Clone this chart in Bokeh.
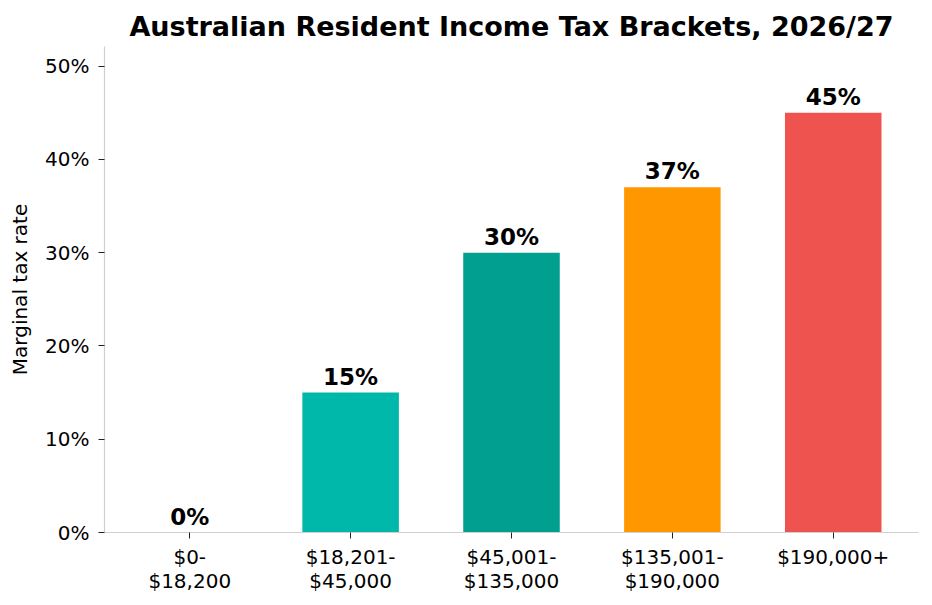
from bokeh.plotting import figure
from bokeh.models import Range1d, FixedTicker, PrintfTickFormatter, ColumnDataSource, LabelSet
from bokeh.core.properties import value
from bokeh.embed import file_html
from bokeh.resources import INLINE

brackets = ["$0-\n$18,200", "$18,201-\n$45,000", "$45,001-\n$135,000", "$135,001-\n$190,000", "$190,000+"]
rates = [0, 15, 30, 37, 45]
rate_labels = ["0%", "15%", "30%", "37%", "45%"]
colors = ["#4db6ac", "#00b8aa", "#009f8f", "#ff9800", "#ef5350"]
y_ticks = [0, 10, 20, 30, 40, 50]

FONT = "DejaVu Sans"
pos = list(range(len(brackets)))

src = ColumnDataSource(dict(x=pos, top=rates, lab=rate_labels, color=colors))

p = figure(width=932, height=605, output_backend="svg", toolbar_location=None,
           x_range=Range1d(-0.53, 4.53), y_range=Range1d(0, 52.1),
           min_border_left=104, min_border_right=14, min_border_top=46, min_border_bottom=73)

p.vbar(x="x", top="top", bottom=0, width=0.6, color="color", source=src, line_color=None)

labels = LabelSet(x="x", y="top", text="lab", source=src, text_align="center",
                  text_baseline="alphabetic", y_offset=8,
                  text_font=value(FONT), text_font_style="bold", text_font_size="23px",
                  text_color="black")
p.add_layout(labels)

p.title.text = "Australian Resident Income Tax Brackets, 2026/27"
p.title.align = "center"
p.title.text_font = FONT
p.title.text_font_size = "27px"
p.title.text_font_style = "bold"
p.title.text_color = "black"

p.xgrid.visible = False
p.ygrid.visible = False
p.outline_line_color = None
p.background_fill_color = "white"
p.border_fill_color = "white"

for ax in (p.xaxis[0], p.yaxis[0]):
    ax.axis_line_color = "#d0d0d0"
    ax.axis_line_width = 1.2
    ax.major_tick_line_color = "#222222"
    ax.major_tick_in = 0
    ax.major_tick_out = 6
    ax.minor_tick_line_color = None
    ax.major_label_text_font = FONT
    ax.major_label_text_font_size = "20px"
    ax.major_label_text_color = "black"

p.xaxis.ticker = FixedTicker(ticks=pos)
p.xaxis.major_label_overrides = {i: b for i, b in enumerate(brackets)}
p.xaxis.major_label_standoff = 6
p.xaxis.major_label_text_line_height = 1.0

p.yaxis.ticker = FixedTicker(ticks=y_ticks)
p.yaxis.formatter = PrintfTickFormatter(format="%d%%")
p.yaxis.major_label_standoff = 9
p.yaxis.axis_label = "Marginal tax rate"
p.yaxis.axis_label_text_font = FONT
p.yaxis.axis_label_text_font_size = "20px"
p.yaxis.axis_label_text_font_style = "normal"
p.yaxis.axis_label_text_color = "black"
p.yaxis.axis_label_standoff = 10

open("out.html", "w").write(file_html(p, INLINE))
